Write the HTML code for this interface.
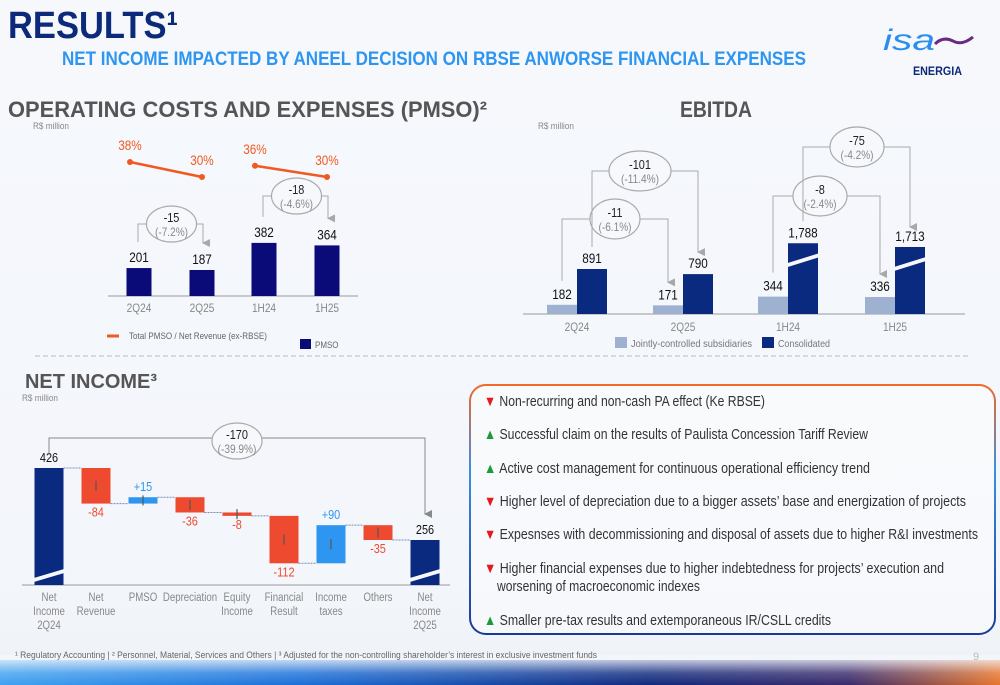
<!DOCTYPE html>
<html><head><meta charset="utf-8">
<style>
html,body{margin:0;padding:0;}
body{width:1000px;height:685px;overflow:hidden;background:linear-gradient(180deg,#f6f8fc 0%,#f3f6fb 85%,#eef1f6 100%);position:relative;font-family:"Liberation Sans",sans-serif;}
svg text{font-family:"Liberation Sans",sans-serif;}
#bottom{position:absolute;left:0;top:660px;width:1000px;height:25px;background:linear-gradient(90deg,#3ea2f0 0%,#1a6fd8 30%,#10287c 65%,#3a2a6a 85%,#e8742a 100%);}
#bottomfade{position:absolute;left:0;top:655px;width:1000px;height:30px;background:linear-gradient(180deg,rgba(243,246,251,1) 0%,rgba(243,246,251,0.2) 60%,rgba(243,246,251,0) 100%);}
</style></head>
<body>
<div id="bottom"></div>
<div id="bottomfade"></div>
<svg id="s" width="1000" height="685" viewBox="0 0 1000 685" style="position:absolute;left:0;top:0">
<defs>
<linearGradient id="bx" x1="0" y1="0" x2="0" y2="1"><stop offset="0" stop-color="#f06a2a"/><stop offset="0.35" stop-color="#3a8ee0"/><stop offset="1" stop-color="#1a3a9a"/></linearGradient>
<marker id="ah" markerWidth="8" markerHeight="8" refX="4" refY="7" orient="auto" markerUnits="userSpaceOnUse"><path d="M0,0 L8,0 L4,8 z" fill="#a8a8a8"/></marker>
<marker id="ahd" markerWidth="8" markerHeight="8" refX="4" refY="7" orient="auto" markerUnits="userSpaceOnUse"><path d="M0,0 L8,0 L4,8 z" fill="#888"/></marker>
</defs>
<text x="8" y="38" font-size="38" font-weight="bold" fill="#0d2a7a" textLength="170" lengthAdjust="spacingAndGlyphs">RESULTS¹</text>
<text x="62" y="65" font-size="19" font-weight="bold" fill="#2e96f0" textLength="744" lengthAdjust="spacingAndGlyphs">NET INCOME IMPACTED BY ANEEL DECISION ON RBSE ANWORSE FINANCIAL EXPENSES</text>
<g>
<text x="883" y="50" font-size="30" font-style="italic" fill="#2a8ef0" font-family="Liberation Serif" textLength="52" lengthAdjust="spacingAndGlyphs">isa</text>
<path d="M935,44 q8,-8 18,-3 q9,5 20,-4" stroke="#6a2a80" stroke-width="3" fill="none"/>
<text x="913" y="75" font-size="12" font-weight="bold" fill="#0d2a7a" textLength="49" lengthAdjust="spacingAndGlyphs">ENERGIA</text>
</g>
<text x="8" y="117" font-size="22" font-weight="bold" fill="#555" textLength="479" lengthAdjust="spacingAndGlyphs">OPERATING COSTS AND EXPENSES (PMSO)²</text>
<text x="33" y="129" font-size="9" fill="#888" textLength="36" lengthAdjust="spacingAndGlyphs">R$ million</text>
<text x="680" y="117" font-size="22" font-weight="bold" fill="#555" textLength="72" lengthAdjust="spacingAndGlyphs">EBITDA</text>
<text x="538" y="129" font-size="9" fill="#888" textLength="36" lengthAdjust="spacingAndGlyphs">R$ million</text>
<line x1="35" y1="356" x2="970" y2="356" stroke="#bbb" stroke-dasharray="5,3"/>
<text x="25" y="388" font-size="20" font-weight="bold" fill="#555" textLength="132" lengthAdjust="spacingAndGlyphs">NET INCOME³</text>
<text x="22" y="401" font-size="9" fill="#888" textLength="36" lengthAdjust="spacingAndGlyphs">R$ million</text>
<g id="pmso"></g>
<g id="ebitda"></g>
<g id="ni"></g>
<g>
<rect x="470" y="385" width="525" height="249" rx="16" fill="rgba(255,255,255,0.35)" stroke="url(#bx)" stroke-width="2"/>
<g font-size="14.5" fill="#333">
<text x="484" y="406" textLength="281" lengthAdjust="spacingAndGlyphs"><tspan fill="#e21a1a">▼</tspan> Non-recurring and non-cash PA effect (Ke RBSE)</text>
<text x="484" y="439" textLength="384" lengthAdjust="spacingAndGlyphs"><tspan fill="#1a9a3a">▲</tspan> Successful claim on the results of Paulista Concession Tariff Review</text>
<text x="484" y="473" textLength="386" lengthAdjust="spacingAndGlyphs"><tspan fill="#1a9a3a">▲</tspan> Active cost management for continuous operational efficiency trend</text>
<text x="484" y="506" textLength="482" lengthAdjust="spacingAndGlyphs"><tspan fill="#e21a1a">▼</tspan> Higher level of depreciation due to a bigger assets’ base and energization of projects</text>
<text x="484" y="539" textLength="494" lengthAdjust="spacingAndGlyphs"><tspan fill="#e21a1a">▼</tspan> Expesnses with decommissioning and disposal of assets due to higher R&amp;I investments</text>
<text x="484" y="573" textLength="460" lengthAdjust="spacingAndGlyphs"><tspan fill="#e21a1a">▼</tspan> Higher financial expenses due to higher indebtedness for projects’ execution and</text>
<text x="497" y="591" textLength="203" lengthAdjust="spacingAndGlyphs">worsening of macroeconomic indexes</text>
<text x="484" y="625" textLength="347" lengthAdjust="spacingAndGlyphs"><tspan fill="#1a9a3a">▲</tspan> Smaller pre-tax results and extemporaneous IR/CSLL credits</text>
</g>
</g>
<text x="15" y="658" font-size="9" fill="#666" textLength="582" lengthAdjust="spacingAndGlyphs">¹ Regulatory Accounting | ² Personnel, Material, Services and Others | ³ Adjusted for the non-controlling shareholder’s interest in exclusive investment funds</text>
<text x="973" y="660" font-size="11" fill="#bbb">9</text>
</svg>
<script>
// PMSO data
const pmsoCats=["2Q24","2Q25","1H24","1H25"];
const pmsoVals=[201,187,382,364];
const pmsoRatio=[38,30,36,30];
// EBITDA data
const ebCats=["2Q24","2Q25","1H24","1H25"];
const ebJoint=[182,171,344,336];
const ebCons=[891,790,1788,1713];
// Net income data
const niCats=[["Net","Income","2Q24"],["Net","Revenue"],["PMSO"],["Depreciation"],["Equity","Income"],["Financial","Result"],["Income","taxes"],["Others"],["Net","Income","2Q25"]];
const niDeltas=[-84,15,-36,-8,-112,90,-35];
const niStart=426;
const niEnd=256;

const NS="http://www.w3.org/2000/svg";
function mk(p,tag,attrs,txt){const e=document.createElementNS(NS,tag);for(const k in attrs)e.setAttribute(k,attrs[k]);if(txt!==undefined)e.textContent=txt;p.appendChild(e);return e;}
function bubble(p,cx,cy,rx,ry,a,b,name){
  const g=mk(p,'g',{});
  
  
  mk(g,'ellipse',{cx:cx,cy:cy,rx:rx,ry:ry,fill:'#f6f8fc',stroke:'#aaa','stroke-width':1.2});
  mk(g,'text',{x:cx,y:cy-2,'text-anchor':'middle','font-size':13,fill:'#222'},a);
  mk(g,'text',{x:cx,y:cy+12,'text-anchor':'middle','font-size':12,fill:'#888'},b);
}
// PMSO
(function(){
  const g=document.getElementById('pmso');
  const base=296, s=0.139, xc=[139,202,264,327], bw=25;
  const y=v=>base-v*s;
  mk(g,'line',{x1:108,y1:base,x2:358,y2:base,stroke:'#999'});
  pmsoVals.forEach((v,i)=>{
    const r=mk(g,'rect',{x:xc[i]-bw/2,y:y(v),width:bw,height:v*s,fill:'#0a0a78'});
    
    
    mk(g,'text',{x:xc[i],y:y(v)-6,'text-anchor':'middle','font-size':14,fill:'#111'},String(v));
    mk(g,'text',{x:xc[i],y:base+16,'text-anchor':'middle','font-size':12,fill:'#888'},pmsoCats[i]);
  });
  const ry=p=>162+(38-p)*(15/8);
  for(let k=0;k<2;k++){
    const i=2*k,j=2*k+1;
    const x1=xc[i]-9,x2=xc[j];
    const l=mk(g,'line',{x1:x1,y1:ry(pmsoRatio[i]),x2:x2,y2:ry(pmsoRatio[j]),stroke:'#f05a22','stroke-width':2.5});
    
    
    mk(g,'circle',{cx:x1,cy:ry(pmsoRatio[i]),r:3,fill:'#f05a22'});
    mk(g,'circle',{cx:x2,cy:ry(pmsoRatio[j]),r:3,fill:'#f05a22'});
    mk(g,'text',{x:x1,y:ry(pmsoRatio[i])-12,'text-anchor':'middle','font-size':14,fill:'#f05a22'},pmsoRatio[i]+'%');
    mk(g,'text',{x:x2,y:ry(pmsoRatio[j])-12,'text-anchor':'middle','font-size':14,fill:'#f05a22'},pmsoRatio[j]+'%');
  }
  function conn(i,j,cy,a,b,name){
    const cx=(xc[i]+xc[j])/2+1;
    mk(g,'path',{d:`M${xc[i]-1},${y(pmsoVals[i])-26} V${cy} H${cx}`,stroke:'#aaa',fill:'none'});
    mk(g,'path',{d:`M${cx},${cy} H${xc[j]+1} V${y(pmsoVals[j])-27}`,stroke:'#aaa',fill:'none','marker-end':'url(#ah)'});
    bubble(g,cx,cy,25,18,a,b,name);
  }
  conn(0,1,224,'-15','(-7.2%)','pmso-change-quarter');
  conn(2,3,196,'-18','(-4.6%)','pmso-change-half');
  const lg=mk(g,'g',{});
  
  
  mk(lg,'line',{x1:107,y1:336,x2:119,y2:336,stroke:'#f05a22','stroke-width':3});
  mk(lg,'text',{x:129,y:339,'font-size':9.5,fill:'#666',textLength:138,lengthAdjust:'spacingAndGlyphs'},'Total PMSO / Net Revenue (ex-RBSE)');
  mk(lg,'rect',{x:300,y:339,width:11,height:10,fill:'#0a0a78'});
  mk(lg,'text',{x:315,y:348,'font-size':9.5,fill:'#666'},'PMSO');
})();
// EBITDA
(function(){
  const g=document.getElementById('ebitda');
  const base=314, s=0.0505, gc=[577,683,788,895], bw=30;
  const brk=1000;
  // broken axis: values above brk drawn compressed
  const h=v=>v<=brk?v*s:67+(v-1713)*0.05;
  const y=v=>base-h(v);
  mk(g,'line',{x1:523,y1:base,x2:965,y2:base,stroke:'#999'});
  ebCats.forEach((c,i)=>{
    const a=mk(g,'rect',{x:gc[i]-bw,y:y(ebJoint[i]),width:bw,height:h(ebJoint[i]),fill:'#9fb1d1'});
    
    
    const b=mk(g,'rect',{x:gc[i],y:y(ebCons[i]),width:bw,height:h(ebCons[i]),fill:'#0a2a80'});
    
    
    if(ebCons[i]>brk){
      const yy=y(ebCons[i])+14;
      mk(g,'polygon',{points:`${gc[i]-1},${yy+6} ${gc[i]+bw+1},${yy-4} ${gc[i]+bw+1},${yy} ${gc[i]-1},${yy+10}`,fill:'#f6f8fc'});
    }
    mk(g,'text',{x:gc[i]-bw/2,y:y(ebJoint[i])-6,'text-anchor':'middle','font-size':14,fill:'#111'},String(ebJoint[i]));
    mk(g,'text',{x:gc[i]+bw/2,y:y(ebCons[i])-6,'text-anchor':'middle','font-size':14,fill:'#111'},ebCons[i].toLocaleString('en-US'));
    mk(g,'text',{x:gc[i],y:base+17,'text-anchor':'middle','font-size':12,fill:'#888'},c);
  });
  function conn(x1,y1,x2,y2,cy,cx,rx,a,b,name){
    mk(g,'path',{d:`M${x1},${y1} V${cy} H${cx}`,stroke:'#aaa',fill:'none'});
    mk(g,'path',{d:`M${cx},${cy} H${x2} V${y2}`,stroke:'#aaa',fill:'none','marker-end':'url(#ah)'});
    bubble(g,cx,cy,rx,20,a,b,name);
  }
  conn(gc[0]-15,y(ebJoint[0])-24,gc[1]-15,y(ebJoint[1])-23,219,615,25,'-11','(-6.1%)','ebitda-jointly-change-quarter');
  conn(gc[0]+15,y(ebCons[0])-22,gc[1]+15,y(ebCons[1])-22,171,640,31,'-101','(-11.4%)','ebitda-consolidated-change-quarter');
  conn(gc[2]-15,y(ebJoint[2])-24,gc[3]-15,y(ebJoint[3])-23,196,820,27,'-8','(-2.4%)','ebitda-jointly-change-half');
  conn(gc[2]+15,y(ebCons[2])-22,gc[3]+15,y(ebCons[3])-20,147,857,27,'-75','(-4.2%)','ebitda-consolidated-change-half');
  const lg=mk(g,'g',{});
  
  
  mk(lg,'rect',{x:615,y:337,width:12,height:11,fill:'#9fb1d1'});
  mk(lg,'text',{x:631,y:347,'font-size':10.5,fill:'#777',textLength:121,lengthAdjust:'spacingAndGlyphs'},'Jointly-controlled subsidiaries');
  mk(lg,'rect',{x:762,y:337,width:12,height:11,fill:'#0a2a80'});
  mk(lg,'text',{x:778,y:347,'font-size':10.5,fill:'#777',textLength:52,lengthAdjust:'spacingAndGlyphs'},'Consolidated');
})();
// Net income waterfall
(function(){
  const g=document.getElementById('ni');
  const base=585, xc=[49,96,143,190,237,284,331,378,425], bw=29;
  const s=(540-468)/(niStart-niEnd);
  const y=v=>468+(niStart-v)*s;
  mk(g,'line',{x1:22,y1:base,x2:450,y2:base,stroke:'#999'});
  function brkTot(i,v,name){
    const r=mk(g,'rect',{x:xc[i]-bw/2,y:y(v),width:bw,height:base-y(v),fill:'#0a2a80'});
    
    
    const yy=base-12;
    mk(g,'polygon',{points:`${xc[i]-bw/2-4},${yy+6} ${xc[i]+bw/2+4},${yy-5} ${xc[i]+bw/2+4},${yy-1} ${xc[i]-bw/2-4},${yy+10}`,fill:'#f6f8fc'});
    mk(g,'text',{x:xc[i],y:y(v)-6,'text-anchor':'middle','font-size':13,fill:'#111'},String(v));
  }
  brkTot(0,niStart,'net-income-2q24-bar');
  let cur=niStart;
  niDeltas.forEach((d,k)=>{
    const i=k+1, nxt=cur+d;
    const top=y(Math.max(cur,nxt)), bot=y(Math.min(cur,nxt));
    const col=d<0?'#ee4a30':'#2e96f0';
    mk(g,'line',{x1:xc[i-1]+bw/2,y1:y(cur),x2:xc[i]-bw/2,y2:y(cur),stroke:'#7a8ab8','stroke-dasharray':'2,1'});
    const r=mk(g,'rect',{x:xc[i]-bw/2,y:top,width:bw,height:Math.max(bot-top,2),fill:col});
    
    
    const my=(top+bot)/2;
    mk(g,'line',{x1:xc[i],y1:my-5,x2:xc[i],y2:my+5,stroke:'#555','stroke-width':1.2});
    const lbl=d<0?String(d):'+'+d;
    const ly=d<0?bot+13:top-6;
    mk(g,'text',{x:xc[i],y:ly,'text-anchor':'middle','font-size':13,fill:col},lbl);
    cur=nxt;
  });
  mk(g,'line',{x1:xc[7]+bw/2,y1:y(cur),x2:xc[8]-bw/2,y2:y(cur),stroke:'#7a8ab8','stroke-dasharray':'2,1'});
  brkTot(8,niEnd,'net-income-2q25-bar');
  niCats.forEach((c,i)=>{
    c.forEach((w,j)=>mk(g,'text',{x:xc[i],y:601+j*14,'text-anchor':'middle','font-size':11.5,fill:'#888'},w));
  });
  mk(g,'path',{d:`M${xc[0]},455 V438 H237`,stroke:'#888',fill:'none'});
  mk(g,'path',{d:`M237,438 H${xc[8]} V514`,stroke:'#888',fill:'none','marker-end':'url(#ahd)'});
  bubble(g,237,441,25,18,'-170','(-39.9%)','net-income-total-change');
})();
// condense generated chart text to mimic narrow font
['pmso','ebitda','ni'].forEach(id=>{
  document.querySelectorAll('#'+id+' text').forEach(t=>{
    if(t.hasAttribute('textLength'))return;
    const w=t.getComputedTextLength();
    t.setAttribute('textLength',(w*0.84).toFixed(1));
    t.setAttribute('lengthAdjust','spacingAndGlyphs');
  });
});
</script>
</body></html>
